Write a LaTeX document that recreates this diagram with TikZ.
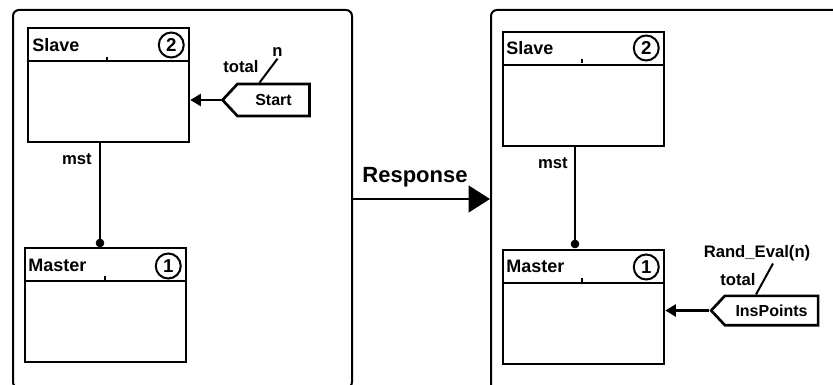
\documentclass[tikz,border=0pt]{standalone}
\usepackage{fontspec}
\setmainfont{Liberation Sans}
\usetikzlibrary{calc, arrows.meta, shapes.symbols, positioning}
\tikzset{
    framenode/.style = {draw, rectangle, rounded corners=4.5pt, line width=1.5pt, inner sep=0em, anchor=north west},
    boxnode/.style = {draw, rectangle, line width=1.7pt, inner sep=0em, minimum width=120.75pt,
      minimum height=85.5pt, anchor=north west},
    titlenode/.style = {draw=none, inner sep=0em, anchor=west, font=\fontsize{13.5}{16}\selectfont\bfseries},
    numnode/.style = {draw, circle, line width=1.5pt, inner sep=0em, minimum size=18.75pt,
      font=\fontsize{14}{16}\selectfont\bfseries},
    textnode/.style = {draw=none, fill=none, inner sep=0em, font=\fontsize{12.5}{15}\selectfont\bfseries},
    pinnode/.style = {draw, signal, signal to=west, signal pointer angle=94, line width=2pt, inner sep=0em,
      font=\fontsize{12}{14}\selectfont\bfseries},
    dotnode/.style = {draw, fill=black, circle, minimum size=6pt, inner sep=0em},
    wire/.style = {line width=1.5pt},
    tick/.style = {line width=0.8pt},
    pinarrow/.style = {line width=2pt, -{Triangle[length=8pt, width=9pt]}},
    bigarrow/.style = {line width=1.5pt, -{Triangle[length=16pt, width=20pt]}}
}

\begin{document}
\begin{tikzpicture}[x=0.75pt, y=-0.75pt]
    \useasboundingbox (0,0) rectangle (833,385);
    \clip (0,0) rectangle (833,385);

    % the two frames
    \node [name=leftframe, framenode, minimum width=254.25pt, minimum height=283.5pt] at (12,9) {};
    \node [name=rightframe, framenode, minimum width=345pt, minimum height=330.75pt] at (490,9) {};

    \node [name=response, textnode, font=\fontsize{16.5}{19}\selectfont\bfseries] at (415,177) {Response};
    \draw [bigarrow] (leftframe.east) -- (rightframe.west |- leftframe.east);

    % left frame
    \node [name=slaveA, boxnode] at (27,27) {};
    \draw [wire] ($(slaveA.north west)+(0,34)$) -- ($(slaveA.north east)+(0,34)$);
    \draw [tick] ($(slaveA.north west)+(80,30)$) -- ++(0,4);
    \node [name=slaveAtitle, titlenode] at ($(slaveA.north west)+(5,18)$) {Slave};
    \node [name=slaveAnum, numnode] at ($(slaveA.north east)+(-19,18)$) {2};

    \node [name=masterA, boxnode] at (24,247) {};
    \draw [wire] ($(masterA.north west)+(0,34)$) -- ($(masterA.north east)+(0,34)$);
    \draw [tick] ($(masterA.north west)+(81,29)$) -- ++(0,4);
    \node [name=masterAtitle, titlenode] at ($(masterA.north west)+(4,18)$) {Master};
    \node [name=masterAnum, numnode] at ($(masterA.north east)+(-19,19)$) {1};

    \node [name=dotA, dotnode] at ($(masterA.north west)+(76,-4)$) {};
    \draw [wire] ($(slaveA.south west)+(73,0)$) -- (dotA.center);
    \node [name=mstA, textnode, anchor=east] at ($(slaveA.south west)+(65,16)$) {mst};

    \node [name=startpin, pinnode, minimum width=65.25pt, minimum height=24pt] at (273.5,100) {Start};
    \draw [pinarrow] (startpin.west) -- (slaveA.east |- startpin.west);
    \coordinate (startn) at ($(startpin.north)+(4,-24)$);
    \draw [wire] ($(startpin.north)+(-14,0)$) -- (startn);
    \node [name=nA, textnode, anchor=south] at ($(startn)+(0,-2)$) {n};
    \node [name=totalA, textnode] at (241,67) {total};

    % right frame
    \node [name=slaveB, boxnode] at (502,31) {};
    \draw [wire] ($(slaveB.north west)+(0,34)$) -- ($(slaveB.north east)+(0,34)$);
    \draw [tick] ($(slaveB.north west)+(80,28)$) -- ++(0,4);
    \node [name=slaveBtitle, titlenode] at ($(slaveB.north west)+(4,17)$) {Slave};
    \node [name=slaveBnum, numnode] at ($(slaveB.north east)+(-19,17)$) {2};

    \node [name=masterB, boxnode] at (502,249) {};
    \draw [wire] ($(masterB.north west)+(0,34)$) -- ($(masterB.north east)+(0,34)$);
    \draw [tick] ($(masterB.north west)+(80,29)$) -- ++(0,4);
    \node [name=masterBtitle, titlenode] at ($(masterB.north west)+(4,17)$) {Master};
    \node [name=masterBnum, numnode] at ($(masterB.north east)+(-19,18)$) {1};

    \node [name=dotB, dotnode] at ($(masterB.north west)+(73,-5)$) {};
    \draw [wire] ($(slaveB.south west)+(73,0)$) -- (dotB.center);
    \node [name=mstB, textnode, anchor=east] at ($(slaveB.south west)+(66,16)$) {mst};

    \node [name=inspin, pinnode, minimum width=80.25pt, minimum height=22pt] at (771.5,310.5) {InsPoints};
    \draw [pinarrow] (inspin.west) -- (masterB.east |- inspin.west);
    \coordinate (insn) at ($(inspin.north)+(1.5,-31)$);
    \draw [wire] ($(inspin.north)+(-15.5,0)$) -- (insn);
    \node [name=randB, textnode] at (757,253) {Rand\_Eval(n)};
    \node [name=totalB, textnode] at (738,280) {total};
\end{tikzpicture}
\end{document}
